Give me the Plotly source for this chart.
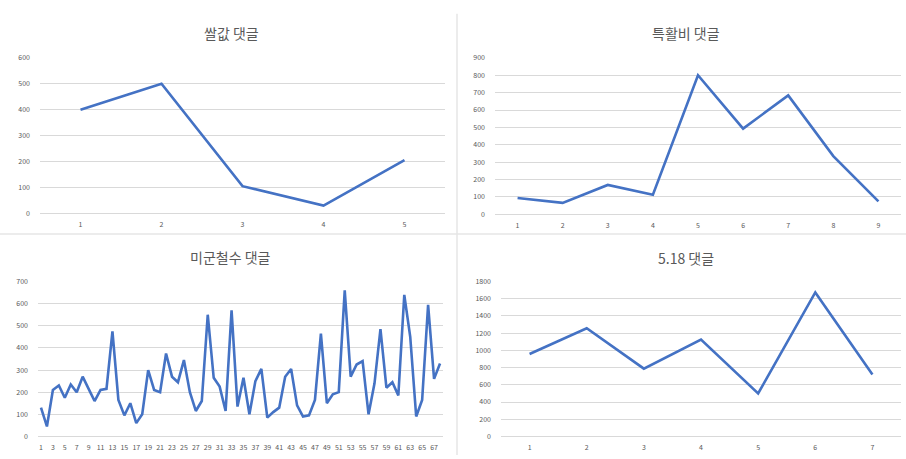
import plotly.graph_objects as go

W, H = 906, 459

# ---- data ----
rice_title = "쌀값 댓글"
rice_vals = [400, 500, 105, 30, 205]

special_title = "특활비 댓글"
special_vals = [94, 66, 169, 113, 800, 493, 684, 335, 75]

usfk_title = "미군철수 댓글"
usfk_vals = [130, 45, 210, 230, 175, 235, 200, 270, 215, 160,
             210, 215, 475, 165, 95, 150, 60, 100, 300, 210,
             200, 375, 270, 245, 345, 200, 115, 160, 550, 265,
             225, 115, 570, 135, 265, 100, 250, 305, 85, 110,
             130, 270, 305, 140, 90, 95, 165, 465, 150, 190,
             200, 660, 270, 325, 340, 100, 240, 485, 220, 245,
             185, 640, 450, 90, 165, 595, 260, 330]

may18_title = "5.18 댓글"
may18_vals = [958, 1258, 788, 1125, 500, 1674, 720]

# ---- layout helpers (pixel boxes) ----
panels = [
    # title, values, (x0,x1,ytop,yzero), ymax, dtick, label step, title pos
    (rice_title, rice_vals, (40, 445, 53, 212), 600, 100, 1, (232, 28)),
    (special_title, special_vals, (495, 901, 53, 213), 900, 100, 1, (686, 28)),
    (usfk_title, usfk_vals, (38, 443, 281.7, 440), 700, 100, 2, (230, 257)),
    (may18_title, may18_vals, (501, 901, 281.7, 440), 1800, 200, 1, (686, 258)),
]

LINE = "#4472C4"
GRID = "#d9d9d9"
TXT = "#595959"
FONT = "Noto Sans CJK KR, Noto Sans, sans-serif"

fig = go.Figure()
layout = dict(
    width=W, height=H, margin=dict(l=0, r=0, t=0, b=0),
    paper_bgcolor="white", plot_bgcolor="white", showlegend=False,
    font=dict(family=FONT, color=TXT),
)
annotations = []
for i, (title, vals, (x0, x1, yt, yz), ymax, dt, step, (tx, ty)) in enumerate(panels, start=1):
    n = len(vals)
    xs = list(range(1, n + 1))
    suffix = "" if i == 1 else str(i)
    fig.add_trace(go.Scatter(x=xs, y=vals, mode="lines",
                             line=dict(color=LINE, width=2.6),
                             xaxis="x" + suffix, yaxis="y" + suffix,
                             hoverinfo="skip"))
    layout["xaxis" + suffix] = dict(
        domain=[x0 / W, x1 / W], anchor="y" + suffix,
        range=[0.5, n + 0.5], tickmode="array",
        tickvals=xs[::step], ticktext=[str(v) for v in xs[::step]],
        showgrid=False, zeroline=False, showline=False, ticks="",
        tickfont=dict(size=7, color=TXT), ticklabelstandoff=6, fixedrange=True,
    )
    layout["yaxis" + suffix] = dict(
        domain=[1 - yz / H, 1 - yt / H], anchor="x" + suffix,
        range=[0, ymax], dtick=dt, tick0=0,
        showgrid=True, gridcolor=GRID, gridwidth=1,
        zeroline=True, zerolinecolor=GRID, zerolinewidth=1,
        showline=False, ticks="",
        tickfont=dict(size=7, color=TXT), ticklabelstandoff=9, fixedrange=True,
    )
    annotations.append(dict(
        text=title, x=tx / W, y=1 - ty / H, xref="paper", yref="paper",
        xanchor="center", yanchor="middle", showarrow=False,
        font=dict(size=14, color=TXT, family=FONT),
    ))

layout["annotations"] = annotations
layout["shapes"] = [
    dict(type="line", xref="paper", yref="paper",
         x0=457 / W, x1=457 / W, y0=0, y1=1 - 8 / H,
         line=dict(color="#e6e6e6", width=1.5)),
    dict(type="line", xref="paper", yref="paper",
         x0=0, x1=1, y0=1 - 233 / H, y1=1 - 233 / H,
         line=dict(color="#e6e6e6", width=1.5)),
]
fig.update_layout(**layout)
fig.write_html("out.html")
